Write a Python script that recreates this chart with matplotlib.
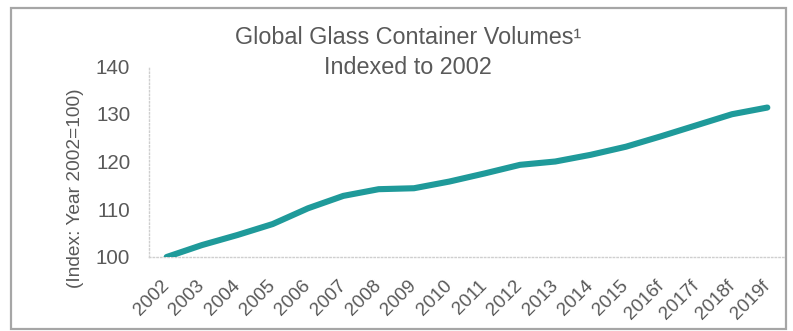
import matplotlib.pyplot as plt
from matplotlib.patches import Rectangle

plt.rcParams['font.family'] = ['Liberation Sans', 'DejaVu Sans']

years = ['2002', '2003', '2004', '2005', '2006', '2007', '2008', '2009', '2010',
         '2011', '2012', '2013', '2014', '2015', '2016f', '2017f', '2018f', '2019f']
volume_index = [100.0, 102.5, 104.6, 106.9, 110.2, 112.8, 114.2, 114.4, 115.8,
                117.5, 119.3, 120.0, 121.4, 123.1, 125.3, 127.6, 129.9, 131.3]
y_ticks = [100, 110, 120, 130, 140]

TEXT_COLOR = '#595959'
LINE_COLOR = '#1f9a9a'

W, H = 793, 331
fig = plt.figure(figsize=(W / 100, H / 100), dpi=100)
ax = fig.add_axes([149 / W, 1 - 257 / H, (785 - 149) / W, (257 - 66) / H])

x = list(range(len(years)))
ax.plot(x, volume_index, color=LINE_COLOR, lw=4.4, solid_capstyle='round', zorder=3)

ax.set_xlim(-0.5, len(years) - 0.5)
ax.set_ylim(100, 140)
ax.set_yticks(y_ticks)
ax.set_yticklabels([str(t) for t in y_ticks], fontsize=14.8, color=TEXT_COLOR)
ax.set_xticks(x)
# rotate round the right-middle of each label so it sits just right of its tick
ax.set_xticklabels(years, rotation=45, ha='right', va='center', rotation_mode='anchor',
                   fontsize=13.6, color=TEXT_COLOR)

ax.tick_params(axis='y', length=0, pad=13.5)
ax.tick_params(axis='x', length=0, pad=19)

for side in ['top', 'right']:
    ax.spines[side].set_visible(False)
for side in ['left', 'bottom']:
    ax.spines[side].set_color('#cfcfcf')
    ax.spines[side].set_linestyle(':')
    ax.spines[side].set_linewidth(1.0)

fig.text(408 / W, 1 - 38 / H, 'Global Glass Container Volumes\u00b9', ha='center', va='center',
         fontsize=16.8, color=TEXT_COLOR)
fig.text(408 / W, 1 - 68 / H, 'Indexed to 2002', ha='center', va='center',
         fontsize=16.8, color=TEXT_COLOR)
fig.text(75 / W, 1 - 188 / H, '(Index: Year 2002=100)', rotation=90, ha='center', va='center',
         fontsize=13.8, color=TEXT_COLOR)

# grey frame round the whole chart
fig.patches.append(Rectangle((11 / W, 1 - 329 / H), (786 - 11) / W, (329 - 8) / H,
                             transform=fig.transFigure, fill=False,
                             edgecolor='#a6a6a6', lw=1.6))

fig.savefig('out.png', dpi=100, facecolor='white')
